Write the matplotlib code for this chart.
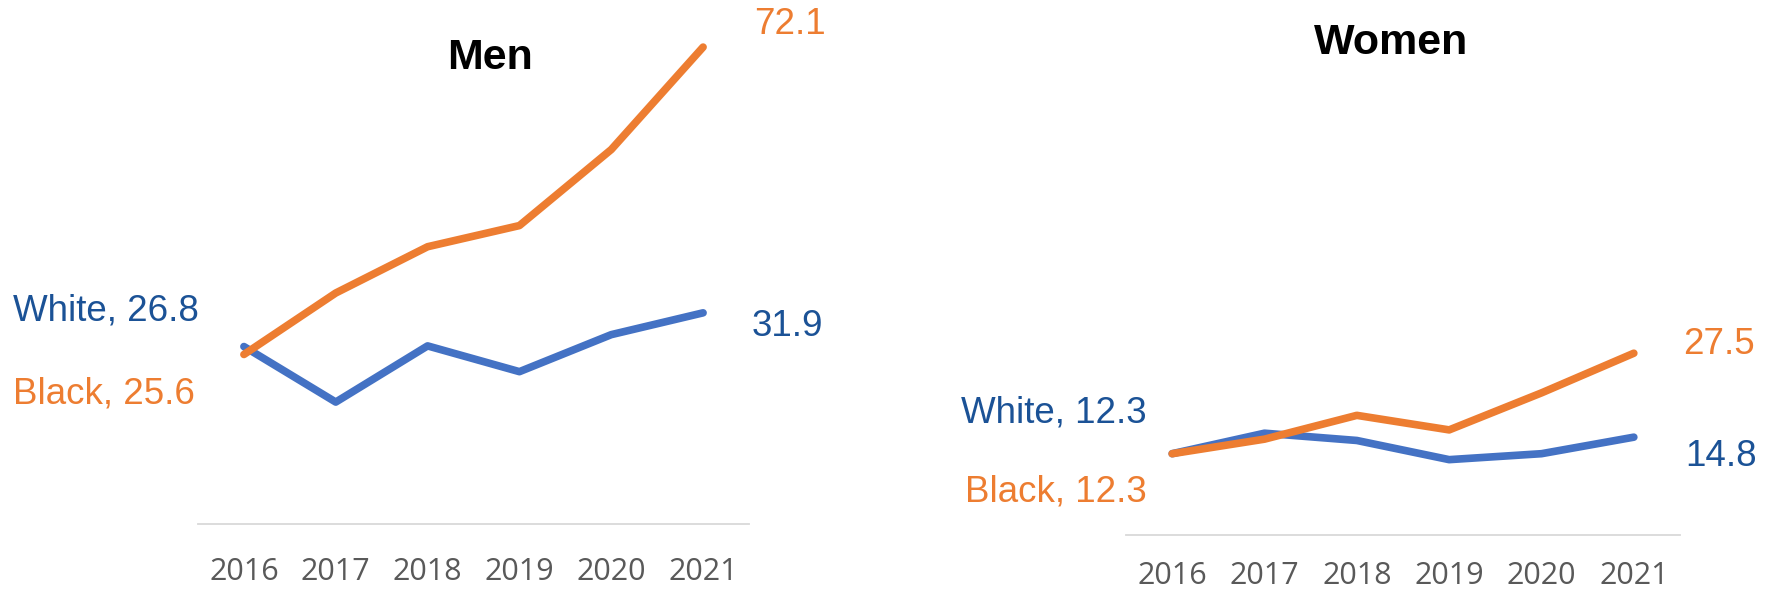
import matplotlib
matplotlib.use("Agg")
import matplotlib.pyplot as plt

years = ["2016", "2017", "2018", "2019", "2020", "2021"]
men_white = [26.8, 18.4, 26.9, 23.0, 28.6, 31.9]
men_black = [25.6, 34.9, 41.9, 45.1, 56.6, 72.1]
women_white = [12.3, 15.4, 14.3, 11.4, 12.3, 14.8]
women_black = [12.3, 14.5, 18.1, 15.9, 21.5, 27.5]

BLUE = "#4472C4"
ORANGE = "#ED7D31"
DARKBLUE = "#1B5296"
GREY = "#595959"
LAB_FONT = ["Liberation Sans", "DejaVu Sans"]
TICK_FONT = ["Open Sans", "DejaVu Sans"]

W, H = 1766, 590
fig = plt.figure(figsize=(W / 100, H / 100), dpi=100)


def px(x, y):
    return x / W, 1 - y / H


def make_panel(rect, white, black, title, title_xy, pad):
    ax = fig.add_axes(rect)
    x = list(range(len(years)))
    ax.plot(x, white, color=BLUE, lw=5.5, solid_capstyle="round",
            solid_joinstyle="round", clip_on=False, zorder=2)
    ax.plot(x, black, color=ORANGE, lw=5.5, solid_capstyle="round",
            solid_joinstyle="round", clip_on=False, zorder=3)
    ax.set_xlim(-0.5, len(years) - 0.5)
    ax.set_ylim(0, 78)
    ax.set_xticks(x)
    ax.set_xticklabels(years, fontsize=22, color=GREY, family=TICK_FONT)
    ax.tick_params(axis="x", length=0, pad=pad)
    ax.set_yticks([])
    for s in ["top", "right", "left"]:
        ax.spines[s].set_visible(False)
    ax.spines["bottom"].set_color("#D9D9D9")
    ax.spines["bottom"].set_linewidth(1.3)
    tx, ty = px(*title_xy)
    fig.text(tx, ty, title, ha="center", va="center", fontsize=31,
             fontweight="bold", family=LAB_FONT, color="black")
    return ax


make_panel([198 / W, 66.3 / H, 551 / W, 515.6 / H], men_white, men_black,
           "Men", (490, 58), 24)
make_panel([1126 / W, 55 / H, 554 / W, 515.6 / H], women_white, women_black,
           "Women", (1391, 43), 18.5)


def label(x, y, s, color, ha="left"):
    fx, fy = px(x, y)
    fig.text(fx, fy, s, ha=ha, va="center", fontsize=26.5, color=color,
             family=LAB_FONT)


# Men labels
label(13, 311, f"White, {men_white[0]}", DARKBLUE)
label(13, 394, f"Black, {men_black[0]}", ORANGE)
label(754, 25, f"{men_black[-1]}", ORANGE)
label(752, 327, f"{men_white[-1]}", DARKBLUE)

# Women labels
label(1147, 413, f"White, {women_white[0]}", DARKBLUE, ha="right")
label(1147, 492, f"Black, {women_black[0]}", ORANGE, ha="right")
label(1683, 344, f"{women_black[-1]}", ORANGE)
label(1685, 457, f"{women_white[-1]}", DARKBLUE)

fig.savefig("out.png", dpi=100, facecolor="white")
